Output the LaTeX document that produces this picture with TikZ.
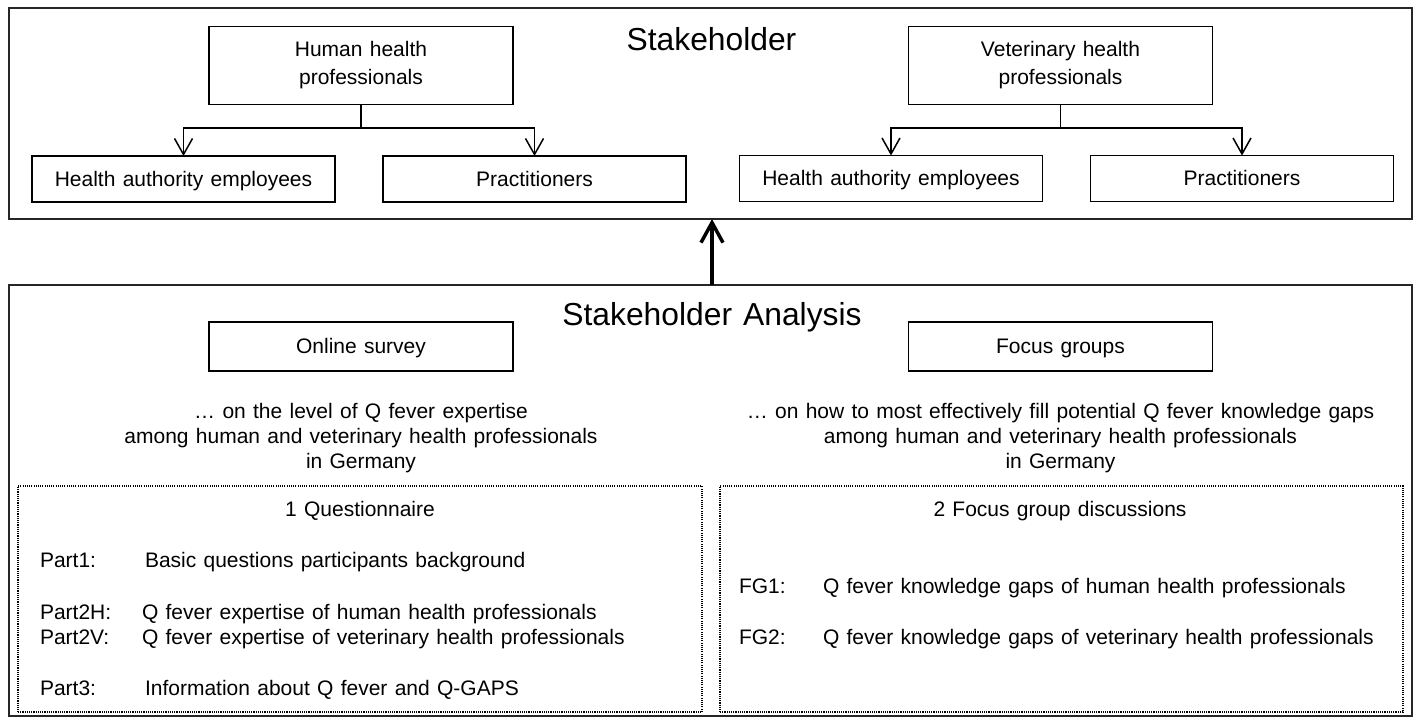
\documentclass[tikz,border=0pt]{standalone}
\usepackage{fontspec}
\setmainfont{Liberation Sans}[WordSpace=1.25]
\usetikzlibrary{arrows.meta}
\begin{document}
\begin{tikzpicture}[x=1pt,y=-1pt,
  every node/.style={font=\fontsize{21}{28}\selectfont, inner sep=0pt, outer sep=0pt},
  frame/.style={draw=black!85, line width=1.6pt, rectangle, minimum width=1403pt},
  box/.style={draw, line width=1.5pt, rectangle, align=center},
  bigbox/.style={box, minimum width=304pt, minimum height=78pt},
  smallbox/.style={box, minimum width=303pt, minimum height=46pt, text height=15pt, text depth=1pt},
  midbox/.style={box, minimum width=304pt, minimum height=49pt, text height=15pt, text depth=1pt},
  dotbox/.style={draw, line width=1.5pt, dash pattern=on 1.1pt off 1.1pt, rectangle, minimum height=226pt},
  title/.style={font=\fontsize{31.8}{36}\selectfont, anchor=base},
  txt/.style={anchor=base},
  ltxt/.style={anchor=base west},
  conn/.style={line width=1.5pt},
  tip/.style={conn, -{Straight Barb[length=16pt,width=18pt,line width=1.5pt]}},
  bigtip/.style={line width=3.5pt, -{Straight Barb[length=20pt,width=22pt,line width=3.5pt]}},
]
\useasboundingbox (0,0) rectangle (1417,721);

% ---------- Stakeholder frame ----------
\node[frame, minimum height=211pt] (top) at (710.5,113.5) {};
\node[title] (sth) at (711.5,50) {Stakeholder};

\node[bigbox] (hh) at (361,65.3) {Human health\\professionals};
\node[bigbox] (vh) at (1060.5,65.3) {Veterinary health\\professionals};

\node[smallbox] (hae) at (183.5,179) {Health authority employees};
\node[smallbox] (hpr) at (534.5,179) {Practitioners};
\node[smallbox] (vae) at (891,178.5) {Health authority employees};
\node[smallbox] (vpr) at (1242,178.5) {Practitioners};

\coordinate (hj) at (361,128);
\coordinate (vj) at (1060.5,128);
\draw[conn] (hh.south) -- (hj);
\draw[tip] (hj) -| (hae.north);
\draw[tip] (hj) -| (hpr.north);
\draw[conn] (vh.south) -- (vj);
\draw[tip] (vj) -| (vae.north);
\draw[tip] (vj) -| (vpr.north);

% ---------- Stakeholder Analysis frame ----------
\node[frame, minimum height=431pt] (bot) at (710.5,500.5) {};
\node[title] (sa) at (712,325) {Stakeholder Analysis};
\draw[bigtip] (bot.north -| sa) -- (top.south -| sa);

\node[midbox] (os) at (361,346.5) {Online survey};
\node[midbox] (fg) at (1060.5,346.5) {Focus groups};

\node[txt] (d1a) at (361,418) {… on the level of Q fever expertise};
\node[txt] (d1b) at (361,443) {among human and veterinary health professionals};
\node[txt] (d1c) at (361,468) {in Germany};
\node[txt] (d2a) at (1060.5,418) {… on how to most effectively fill potential Q fever knowledge gaps};
\node[txt] (d2b) at (1060.5,443) {among human and veterinary health professionals};
\node[txt] (d2c) at (1060.5,468) {in Germany};

% ---------- dotted boxes ----------
\node[dotbox, minimum width=684pt] (qbox) at (360,599) {};
\node[dotbox, minimum width=683pt] (fbox) at (1061.5,599) {};

\node[txt] (qt) at (360,516) {1 Questionnaire};
\node[ltxt] (p1l) at (40,567) {Part1:};
\node[ltxt] (p1t) at (145,567) {Basic questions participants background};
\node[ltxt] (p2hl) at (40,619) {Part2H:};
\node[ltxt] (p2ht) at (142,619) {Q fever expertise of human health professionals};
\node[ltxt] (p2vl) at (40,644) {Part2V:};
\node[ltxt] (p2vt) at (142,644) {Q fever expertise of veterinary health professionals};
\node[ltxt] (p3l) at (40,695) {Part3:};
\node[ltxt] (p3t) at (145,695) {Information about Q fever and Q-GAPS};

\node[txt] (ft) at (1060,516) {2 Focus group discussions};
\node[ltxt] (fg1l) at (739,593) {FG1:};
\node[ltxt] (fg1t) at (823,593) {Q fever knowledge gaps of human health professionals};
\node[ltxt] (fg2l) at (739,644) {FG2:};
\node[ltxt] (fg2t) at (823,644) {Q fever knowledge gaps of veterinary health professionals};
\end{tikzpicture}
\end{document}
